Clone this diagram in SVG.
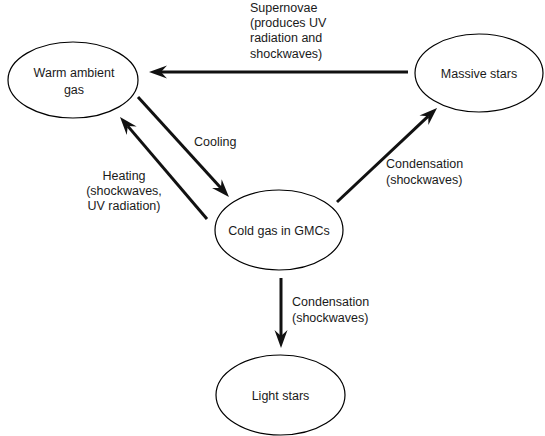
<svg xmlns="http://www.w3.org/2000/svg" width="545" height="436" viewBox="0 0 545 436">
<style>
.node{fill:#fff;stroke:#000;stroke-width:1.2}
.lbl{font-family:"Liberation Sans",Arial,sans-serif;font-size:12.5px;fill:#1a1a1a}
.edge{stroke:#111;stroke-width:3;fill:none}
</style>
<defs>
<marker id="ah" viewBox="-19 -8 20 16" markerWidth="20" markerHeight="16" refX="-12" refY="0" orient="auto" markerUnits="userSpaceOnUse">
<path d="M0,0 L-18,-6.5 L-12,0 L-18,6.5 Z" fill="#111"/>
</marker>
</defs>
<rect width="545" height="436" fill="#fff"/>
<g id="warm">
<ellipse class="node" cx="73" cy="80" rx="65" ry="38"/>
<text class="lbl" x="74" y="77" text-anchor="middle">Warm ambient</text>
<text class="lbl" x="74" y="94" text-anchor="middle">gas</text>
</g>
<g id="massive">
<ellipse class="node" cx="479" cy="73" rx="64" ry="39"/>
<text class="lbl" x="479" y="78" text-anchor="middle">Massive stars</text>
</g>
<g id="cold">
<ellipse class="node" cx="279" cy="230" rx="64" ry="40"/>
<text class="lbl" x="279" y="235" text-anchor="middle">Cold gas in GMCs</text>
</g>
<g id="light">
<ellipse class="node" cx="280.5" cy="395" rx="64.5" ry="40"/>
<text class="lbl" x="280.5" y="400" text-anchor="middle">Light stars</text>
</g>
<g id="connectors">
<line class="edge" x1="408" y1="72" x2="161" y2="72" marker-end="url(#ah)"/>
<line class="edge" x1="138" y1="97" x2="220.9" y2="188.1" marker-end="url(#ah)"/>
<line class="edge" x1="207" y1="219" x2="127.8" y2="126.1" marker-end="url(#ah)"/>
<line class="edge" x1="337" y1="202" x2="428.3" y2="116.2" marker-end="url(#ah)"/>
<line class="edge" x1="281" y1="278" x2="281" y2="336" marker-end="url(#ah)"/>
</g>
<g id="labels">
<text class="lbl" x="250" y="12">Supernovae</text>
<text class="lbl" x="250" y="27">(produces UV</text>
<text class="lbl" x="250" y="42">radiation and</text>
<text class="lbl" x="250" y="58">shockwaves)</text>
<text class="lbl" x="194" y="146">Cooling</text>
<text class="lbl" x="124" y="180" text-anchor="middle">Heating</text>
<text class="lbl" x="124" y="195" text-anchor="middle">(shockwaves,</text>
<text class="lbl" x="124" y="210" text-anchor="middle">UV radiation)</text>
<text class="lbl" x="386" y="168">Condensation</text>
<text class="lbl" x="386" y="184">(shockwaves)</text>
<text class="lbl" x="292" y="306">Condensation</text>
<text class="lbl" x="292" y="322">(shockwaves)</text>
</g>
</svg>
